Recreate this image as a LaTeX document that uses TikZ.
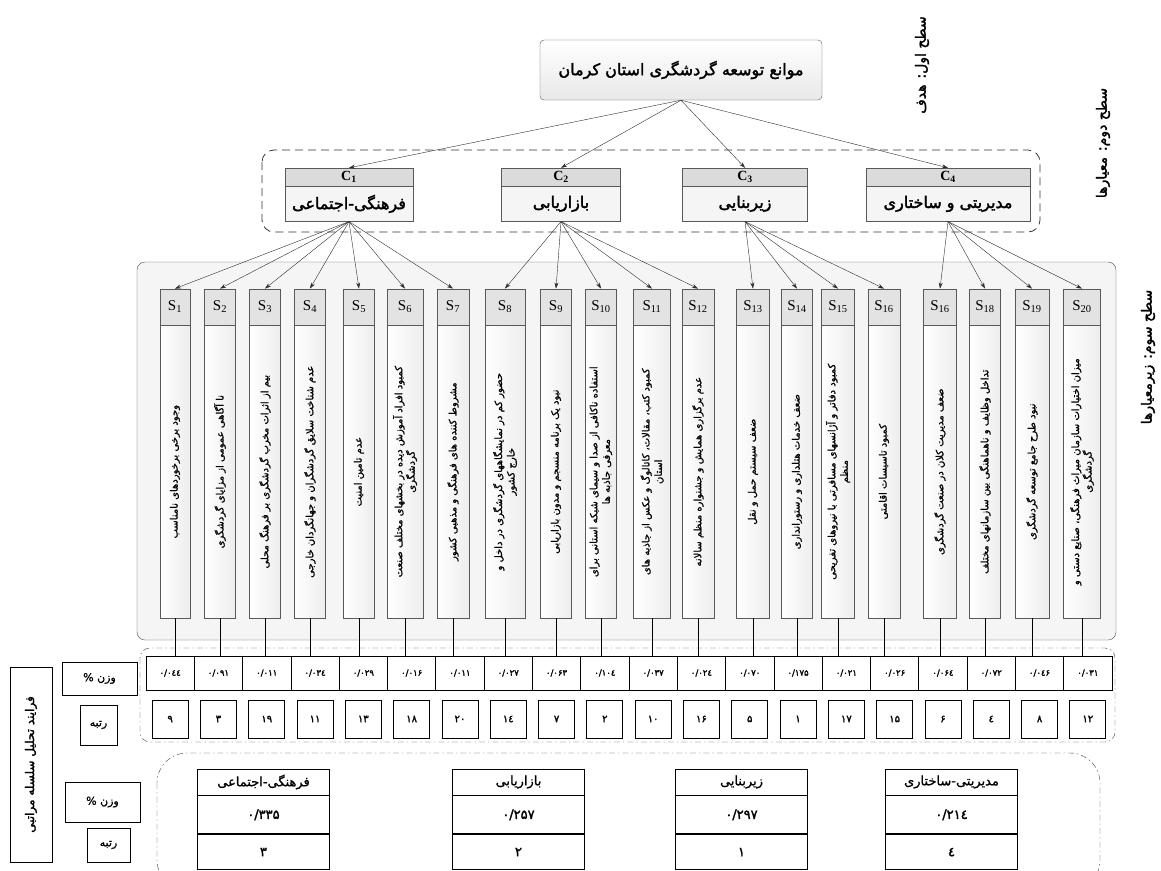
\documentclass[tikz,border=0pt]{standalone}
\usepackage{fontspec}
\usetikzlibrary{arrows.meta,positioning}
\TeXXeTstate=1
\newfontfamily\fa[Script=Arabic]{DejaVu Sans}
\newfontfamily\fabf[Script=Arabic,FakeBold=2]{DejaVu Sans}
\newfontfamily\fasb[Script=Arabic,FakeBold=1]{DejaVu Sans}
\newfontfamily\tnr{Liberation Serif}
\newcommand{\fatext}[1]{\beginR #1\endR}

\tikzset{
  goalbox/.style={draw=gray!70!black, rounded corners=4, top color=white, bottom color=gray!18,
    minimum width=282, minimum height=60, font=\fabf\fontsize{16}{18}\selectfont},
  crithead/.style={draw=gray!70!black, fill=gray!28, minimum height=18, inner sep=0,
    font=\tnr\bfseries\fontsize{14}{14}\selectfont},
  critbody/.style={draw=gray!70!black, fill=gray!8, minimum height=35, inner sep=0,
    font=\fabf\fontsize{16}{18}\selectfont},
  subhead/.style={draw=gray!70!black, fill=gray!22, minimum height=36, inner sep=0,
    font=\tnr\fontsize{15}{16}\selectfont},
  subbody/.style={draw=gray!70!black, left color=white, right color=gray!14, minimum height=293, inner sep=0},
  subtext/.style={rotate=90, align=center, font=\fasb\fontsize{10}{12.5}\selectfont},
  wcell/.style={draw=black, thick, minimum width=48.3, minimum height=34, inner sep=0,
    font=\fabf\fontsize{8.5}{9}\selectfont},
  rcell/.style={draw=black, thick, minimum width=36, minimum height=38, inner sep=0,
    font=\fabf\fontsize{10}{10}\selectfont},
  tabcell/.style={draw=black, thick, minimum width=132, inner sep=0, font=\fasb\fontsize{13}{13}\selectfont},
  sidebox/.style={draw=black, thick, inner sep=0, font=\fasb\fontsize{11}{11}\selectfont},
  levellabel/.style={rotate=90, font=\fabf\fontsize{14}{16}\selectfont},
  link/.style={draw=gray!35!black, -{Stealth[length=6pt,width=4pt]}},
  dashdot/.style={draw=black!75, dash pattern=on 6pt off 3pt on 1.5pt off 3pt},
}

\begin{document}
\begin{tikzpicture}[x=1pt, y=-1pt]
    \useasboundingbox (0,0) rectangle (1161,870);
    % level 1: goal
    \node[goalbox] (goal) at (681,70) {\fatext{موانع توسعه گردشگری استان کرمان}};
    \node[levellabel] (lev1) at (922,65) {\fatext{سطح اول: هدف}};
    % level 2: criteria
    \draw[gray!40!black, thick, dash pattern=on 8pt off 5pt, rounded corners=12] (262,150) rectangle (1040,232);
    \foreach \x/\w/\lbl/\txt in {349/128/1/{فرهنگی-اجتماعی}, 561/119/2/{بازاریابی},
        745/125/3/{زیربنایی}, 948/164/4/{مدیریتی و ساختاری}} {
      \node[crithead, minimum width=\w] (ch\lbl) at (\x,177) {C\textsubscript{\lbl}};
      \node[critbody, minimum width=\w, anchor=north] (cb\lbl) at (ch\lbl.south) {\fatext{\txt}};
      \draw[link] (goal.south) -- (ch\lbl.north);
    }
    \node[levellabel] (lev2) at (1103,143) {\fatext{سطح دوم: معیارها}};
    % level 3: sub-criteria
    \draw[gray!60!black, fill=gray!8, rounded corners=8] (137,262) rectangle (1116,640);
    \foreach \x/\w/\lbl/\txt [count=\i] in {
        175/30/1/{\fatext{وجود برخی برخوردهای نامناسب}},
        220/31/2/{\fatext{نا آگاهی عمومی از مزایای گردشگری}},
        265/31/3/{\fatext{بیم از اثرات مخرب گردشگری بر فرهنگ محلی}},
        310/31/4/{\fatext{عدم شناخت سلایق گردشگران و جهانگردان خارجی}},
        359/31/5/{\fatext{عدم تامین امنیت}},
        405/36/6/{\fatext{کمبود افراد آموزش دیده در بخشهای مختلف صنعت}\\\fatext{گردشگری}},
        453/32/7/{\fatext{مشروط کننده های فرهنگی و مذهبی کشور}},
        505/40/8/{\fatext{حضور کم در نمایشگاههای گردشگری در داخل و}\\\fatext{خارج کشور}},
        556/31/9/{\fatext{نبود یک برنامه منسجم و مدون بازاریابی}},
        601/31/10/{\fatext{استفاده ناکافی از صدا و سیمای شبکه استانی برای}\\\fatext{معرفی جاذبه ها}},
        652/37/11/{\fatext{کمبود کتب، مقالات، کاتالوگ و عکس از جاذبه های}\\\fatext{استان}},
        698/32/12/{\fatext{عدم برگزاری همایش و جشنواره منظم سالانه}},
        753/33/13/{\fatext{ضعف سیستم حمل و نقل}},
        797/31/14/{\fatext{ضعف خدمات هتلداری و رستورانداری}},
        838/33/15/{\fatext{کمبود دفاتر و آژانسهای مسافرتی با نیروهای تفریحی}\\\fatext{منظم}},
        884/32/16/{\fatext{کمبود تاسیسات اقامتی}},
        940/33/16/{\fatext{ضعف مدیریت کلان در صنعت گردشگری}},
        985/31/18/{\fatext{تداخل وظایف و ناهماهنگی بین سازمانهای مختلف}},
        1032/34/19/{\fatext{نبود طرح جامع توسعه گردشگری}},
        1082/37/20/{\fatext{میزان اختیارات سازمان میراث فرهنگی، صنایع دستی و}\\\fatext{گردشگری}}} {
      \node[subbody, minimum width=\w, anchor=north] (b\i) at (\x,325) {};
      \node[subhead, minimum width=\w, anchor=south] (s\i) at (b\i.north) {S\textsubscript{\lbl}};
      \node[subtext] (t\i) at (b\i.center) {\txt};
    }
    \foreach \c/\s in {1/1,1/2,1/3,1/4,1/5,1/6,1/7,2/8,2/9,2/10,2/11,2/12,
        3/13,3/14,3/15,3/16,4/17,4/18,4/19,4/20}
      \draw[link] (cb\c.south) -- (s\s.north);
    \node[levellabel] (lev3) at (1148,357) {\fatext{سطح سوم: زیرمعیارها}};
    % weights and ranks of sub-criteria
    \draw[dashdot, rounded corners=10] (140,648) rectangle (1115,742);
    \foreach \wt/\rk [count=\i] in {۰٤٤/۹, ۰۹۱/۳, ۰۱۱/۱۹, ۰۳٤/۱۱, ۰۲۹/۱۳, ۰۱۶/۱۸, ۰۱۱/۲۰,
        ۰۲۷/۱٤, ۰۶۳/۷, ۱۰٤/۲, ۰۳۷/۱۰, ۰۲٤/۱۶, ۰۷۰/۵, ۱۷۵/۱, ۰۲۱/۱۷, ۰۲۶/۱۵,
        ۰۶٤/۶, ۰۷۲/٤, ۰٤۶/۸, ۰۳۱/۱۲} {
      \node[wcell] (w\i) at ({146+48.3*(\i-0.5)},673) {۰/\wt};
      \node[rcell] (r\i) at ({146+48.3*(\i-0.5)},719) {\rk};
      \draw[black] (b\i.south) -- (b\i.south |- w\i.north);
    }
    % left side labels
    \node[sidebox, rotate=90, minimum width=195, minimum height=42, font=\fabf\fontsize{12}{12}\selectfont]
      (ahp) at (31,764.5) {\fatext{فرایند تحلیل سلسله مراتبی}};
    \node[sidebox, minimum width=75, minimum height=33] (wlab) at (99.5,678.5) {\fatext{وزن \%}};
    \node[sidebox, minimum width=37, minimum height=40] (rlab) at (98.5,725) {رتبه};
    \node[sidebox, minimum width=75, minimum height=40] (wlab2) at (102.5,802) {\fatext{وزن \%}};
    \node[sidebox, minimum width=43, minimum height=34] (rlab2) at (108.5,845) {رتبه};
    % weights of criteria
    \draw[dashdot, rounded corners=30] (157,753) rectangle (1100,890);
    \foreach \x/\nm/\v/\r [count=\i] in {263.5/{فرهنگی-اجتماعی}/۳۳۵/۳, 518.5/{بازاریابی}/۲۵۷/۲,
        741.5/{زیربنایی}/۲۹۷/۱, 951.5/{مدیریتی-ساختاری}/۲۱٤/٤} {
      \node[tabcell, minimum height=26] (th\i) at (\x,782) {\fatext{\nm}};
      \node[tabcell, minimum height=38, anchor=north, font=\fabf\fontsize{13}{13}\selectfont] (tv\i) at (th\i.south) {۰/\v};
      \node[tabcell, minimum height=35, anchor=north, font=\fabf\fontsize{13}{13}\selectfont] (tr\i) at (tv\i.south) {\r};
    }
\end{tikzpicture}
\end{document}
